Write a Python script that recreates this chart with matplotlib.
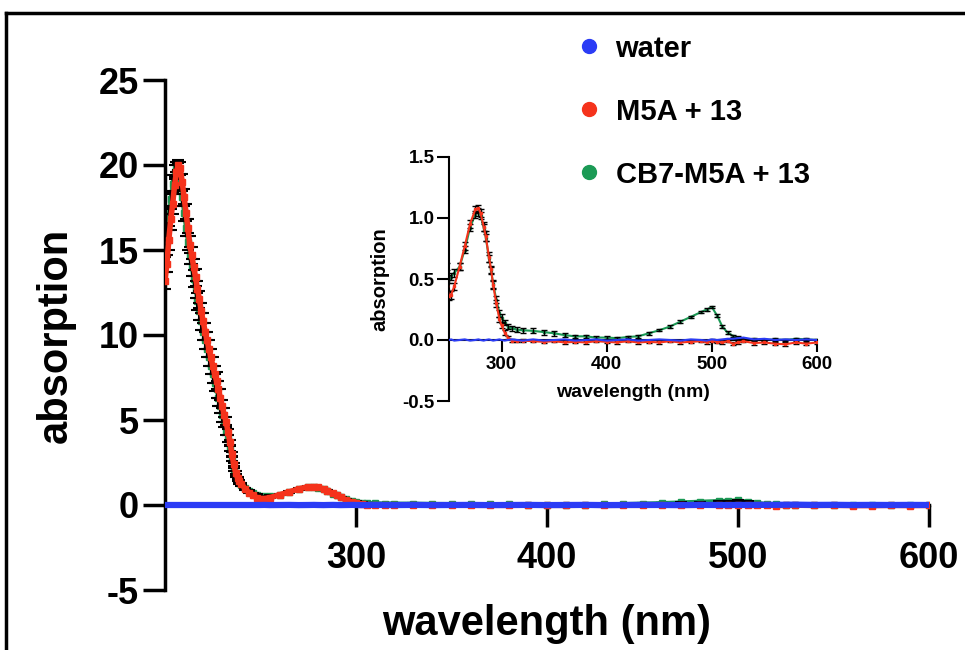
import matplotlib
import matplotlib.pyplot as plt
from matplotlib.lines import Line2D
from matplotlib.ticker import FormatStrFormatter

plt.rcParams['font.family'] = ['Liberation Sans', 'DejaVu Sans']
plt.rcParams['font.weight'] = 'bold'
plt.rcParams['axes.labelweight'] = 'bold'
plt.rcParams['axes.unicode_minus'] = False

# wavelength grid (nm): 1 nm steps over the UV peak, coarser afterwards
wavelength = [200, 201, 202, 203, 204, 205, 206, 207, 208, 209,
              210, 211, 212, 213, 214, 215, 216, 217, 218, 219,
              220, 221, 222, 223, 224, 225, 226, 227, 228, 229,
              230, 231, 232, 233, 234, 235, 236, 237, 238, 239,
              240,
              242, 244, 246, 248, 250, 252, 255, 260, 265, 270,
              275, 278, 280, 283, 285, 288, 290, 292, 295, 298,
              300, 303, 306, 310, 315, 320,
              330, 340, 350, 360, 370, 380, 390, 400, 410, 420,
              430, 440, 450, 460, 470, 480, 490,
              495, 500, 505, 510, 515, 520, 525, 530,
              540, 550, 560, 570, 580, 590, 600]

water = [0.0, 0.0, 0.0, 0.0, 0.0, 0.0, 0.0, 0.0, 0.0, 0.0,
         0.0, 0.0, 0.0, 0.0, 0.0, 0.0, 0.0, 0.0, 0.0, 0.0,
         0.0, 0.0, 0.0, 0.0, 0.0, 0.0, 0.0, 0.0, 0.0, 0.0,
         0.0, 0.0, 0.0, 0.0, 0.0, 0.0, 0.0, 0.0, 0.0, 0.0,
         0.0,
         0.0, 0.0, 0.0, 0.0, 0.0, 0.005, -0.005, 0.0, 0.005, -0.005,
         0.0, 0.005, 0.0, -0.005, 0.0, 0.005, 0.0, -0.005, 0.0, 0.005,
         0.0, -0.005, 0.0, 0.005, 0.0, -0.005,
         0.005, -0.005, 0.0, 0.005, -0.005, 0.0, 0.005, -0.005, 0.0, 0.005,
         -0.005, 0.0, 0.005, 0.0, -0.005, 0.005, 0.0,
         -0.005, 0.005, 0.0, 0.005, 0.01, 0.01, 0.015, 0.02,
         0.005, 0.01, 0.0, 0.005, 0.0, 0.005, 0.0]

m5a = [13.2, 14.2, 15.6, 16.8, 17.7, 18.8, 19.6, 20.0, 19.8, 19.0,
       18.1, 17.2, 16.3, 15.3, 14.7, 14.0, 13.4, 12.7, 12.1, 11.4,
       10.8, 10.2, 9.7, 9.2, 8.7, 8.2, 7.7, 7.3, 6.8, 6.3,
       5.8, 5.3, 4.9, 4.3, 3.7, 3.0, 2.4, 1.9, 1.6, 1.4,
       1.25,
       0.95, 0.72, 0.56, 0.44, 0.36, 0.37, 0.44, 0.6, 0.77, 0.95,
       1.07, 1.08, 1.04, 0.93, 0.85, 0.68, 0.58, 0.45, 0.3, 0.17,
       0.12, 0.06, 0.02, -0.005, -0.01, -0.005,
       -0.01, -0.015, -0.01, -0.02, -0.015, -0.02, -0.01, -0.015, -0.02, -0.01,
       -0.02, -0.015, -0.02, -0.01, -0.02, -0.015, -0.01,
       -0.02, -0.005, -0.015, -0.02, -0.01, -0.03, -0.02, -0.01,
       -0.025, -0.02, -0.03, -0.035, -0.02, -0.03, -0.02]

cb7_m5a = [15.2, 16.0, 17.0, 18.0, 18.9, 19.6, 19.9, 19.7, 19.0, 18.1,
           17.2, 16.3, 15.5, 14.7, 14.0, 13.3, 12.7, 12.0, 11.4, 10.8,
           10.2, 9.7, 9.2, 8.7, 8.2, 7.7, 7.2, 6.8, 6.3, 5.8,
           5.3, 4.9, 4.4, 3.9, 3.3, 2.7, 2.1, 1.7, 1.45, 1.3,
           1.15,
           0.98, 0.82, 0.7, 0.6, 0.5, 0.52, 0.55, 0.6, 0.74, 0.92,
           1.03, 1.05, 1.02, 0.92, 0.84, 0.67, 0.57, 0.46, 0.33, 0.22,
           0.18, 0.14, 0.11, 0.095, 0.085, 0.08,
           0.075, 0.065, 0.055, 0.04, 0.03, 0.03, 0.02, 0.02, 0.015, 0.025,
           0.03, 0.055, 0.08, 0.11, 0.15, 0.19, 0.23,
           0.25, 0.27, 0.2, 0.11, 0.06, 0.035, 0.02, 0.01,
           0.005, 0.0, 0.005, 0.0, 0.01, 0.005, 0.0]

sd_m5a = [0.5, 0.5, 0.6, 0.6, 0.6, 0.5, 0.4, 0.3, 0.4, 0.5,
          0.5, 0.5, 0.5, 0.5, 0.5, 0.5, 0.5, 0.5, 0.5, 0.5,
          0.5, 0.5, 0.5, 0.5, 0.5, 0.5, 0.5, 0.5, 0.5, 0.5,
          0.4, 0.4, 0.3, 0.2, 0.15, 0.1, 0.1, 0.08, 0.06, 0.05,
          0.05,
          0.04, 0.04, 0.03, 0.03, 0.03, 0.03, 0.03, 0.03, 0.03, 0.03,
          0.03, 0.03, 0.03, 0.04, 0.04, 0.04, 0.03, 0.03, 0.03, 0.02,
          0.02, 0.02, 0.01, 0.01, 0.01, 0.01,
          0.01, 0.01, 0.01, 0.01, 0.01, 0.01, 0.01, 0.01, 0.01, 0.01,
          0.01, 0.01, 0.01, 0.01, 0.01, 0.01, 0.01,
          0.01, 0.01, 0.01, 0.01, 0.01, 0.015, 0.01, 0.01,
          0.015, 0.01, 0.015, 0.015, 0.01, 0.015, 0.01]

sd_cb7 = [0.6, 0.6, 0.6, 0.5, 0.5, 0.4, 0.3, 0.4, 0.5, 0.5,
          0.5, 0.5, 0.5, 0.5, 0.5, 0.5, 0.5, 0.5, 0.5, 0.5,
          0.5, 0.5, 0.5, 0.5, 0.5, 0.5, 0.5, 0.5, 0.5, 0.4,
          0.4, 0.3, 0.3, 0.2, 0.15, 0.1, 0.1, 0.08, 0.06, 0.05,
          0.05,
          0.04, 0.04, 0.03, 0.03, 0.03, 0.03, 0.03, 0.03, 0.03, 0.03,
          0.03, 0.03, 0.03, 0.03, 0.03, 0.03, 0.03, 0.03, 0.03, 0.03,
          0.03, 0.02, 0.02, 0.02, 0.02, 0.02,
          0.02, 0.02, 0.02, 0.015, 0.015, 0.01, 0.01, 0.01, 0.01, 0.01,
          0.01, 0.01, 0.01, 0.01, 0.01, 0.01, 0.01,
          0.01, 0.01, 0.01, 0.01, 0.01, 0.01, 0.01, 0.01,
          0.01, 0.01, 0.01, 0.01, 0.01, 0.01, 0.01]

labels = ['water', 'M5A + 13', 'CB7-M5A + 13']
colors = ['#2b3cf5', '#f5331c', '#1b9a55']

fig = plt.figure(figsize=(9.65, 6.5), dpi=100)

# ---- main axes ----
ax = fig.add_axes([165/965, 1-590/650, (929-165)/965, (590-80)/650])
ax.plot(wavelength, cb7_m5a, '-s', color=colors[2], lw=3, ms=4, zorder=2)
ax.errorbar(wavelength, m5a, yerr=sd_m5a, fmt='none', ecolor='black',
            elinewidth=1.5, capsize=4, capthick=1.5, zorder=3)
ax.errorbar(wavelength, cb7_m5a, yerr=sd_cb7, fmt='none', ecolor='black',
            elinewidth=1.5, capsize=4, capthick=1.5, zorder=3)
ax.plot(wavelength, m5a, '-s', color=colors[1], lw=4, ms=4, zorder=4)
ax.plot(wavelength, water, '-', color=colors[0], lw=4.5, zorder=5)

ax.set_xlim(200, 600)
ax.set_ylim(-5, 25)
ax.set_xticks([300, 400, 500, 600])
ax.set_yticks([-5, 0, 5, 10, 15, 20, 25])
ax.spines['bottom'].set_position(('data', 0))
ax.spines['top'].set_visible(False)
ax.spines['right'].set_visible(False)
for s in ['left', 'bottom']:
    ax.spines[s].set_linewidth(2.5)
ax.tick_params(direction='out', length=16, width=2.5, labelsize=26)
ax.tick_params(axis='x', pad=10)
ax.tick_params(axis='y', pad=3)
ax.set_xlabel('wavelength (nm)', fontsize=30, labelpad=20)
ax.set_ylabel('absorption', fontsize=30, labelpad=16)

# ---- inset ----
axi = fig.add_axes([449/965, 1-401/650, (817-449)/965, (401-157)/650])
axi.plot(wavelength, cb7_m5a, '-s', color=colors[2], lw=1.5, ms=2, zorder=2)
axi.errorbar(wavelength, m5a, yerr=sd_m5a, fmt='none', ecolor='black',
             elinewidth=1, capsize=2, capthick=1, zorder=3)
axi.errorbar(wavelength, cb7_m5a, yerr=sd_cb7, fmt='none', ecolor='black',
             elinewidth=1, capsize=2, capthick=1, zorder=3)
axi.plot(wavelength, m5a, '-s', color=colors[1], lw=1.5, ms=2, zorder=4)
axi.plot(wavelength, water, '-', color=colors[0], lw=1.5, zorder=5)

axi.set_xlim(250, 600)
axi.set_ylim(-0.5, 1.5)
axi.set_xticks([300, 400, 500, 600])
axi.set_yticks([-0.5, 0.0, 0.5, 1.0, 1.5])
axi.yaxis.set_major_formatter(FormatStrFormatter('%.1f'))
axi.spines['bottom'].set_position(('data', 0))
axi.spines['top'].set_visible(False)
axi.spines['right'].set_visible(False)
for s in ['left', 'bottom']:
    axi.spines[s].set_linewidth(1.5)
axi.tick_params(direction='out', length=8.5, width=1.5, labelsize=13.5)
axi.tick_params(axis='x', pad=3)
axi.tick_params(axis='y', pad=2)
axi.set_xlabel('wavelength (nm)', fontsize=14, labelpad=8)
axi.set_ylabel('absorption', fontsize=14.5, labelpad=9)

# ---- legend ----
handles = [Line2D([], [], marker='o', ls='none', color=c, ms=10) for c in colors]
fig.legend(handles, labels, loc='upper left', bbox_to_anchor=(566/965, 1-20/650),
           frameon=False, fontsize=21, handlelength=0.6, handletextpad=0.6,
           labelspacing=1.2, borderpad=0)

# frame lines (top and left only)
fig.add_artist(Line2D([6/965, 1], [1-13/650, 1-13/650], transform=fig.transFigure,
                      color='black', lw=2.5))
fig.add_artist(Line2D([6/965, 6/965], [0, 1-13/650], transform=fig.transFigure,
                      color='black', lw=2.5))

fig.savefig('out.png', dpi=100)
